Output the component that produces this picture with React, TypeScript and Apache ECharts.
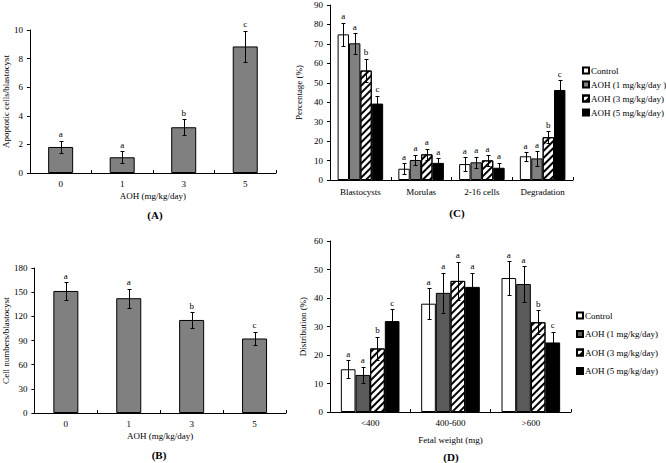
import React, { useEffect, useRef } from "react";
import * as echarts from "echarts";

// ---- Panel A / B ----
const doseCats = ["0", "1", "3", "5"];
const apoptotic = [1.82, 1.1, 3.2, 8.85];
const apoptoticErr = [0.44, 0.43, 0.57, 1.1];
const apoptoticLetters = ["a", "a", "b", "c"];

const cellNumbers = [151.5, 142.5, 115.5, 92.5];
const cellErr = [11, 12, 9.4, 8.6];
const cellLetters = ["a", "a", "b", "c"];

// ---- Panel C ----
const stageCats = ["Blastocysts", "Morulas", "2-16 cells", "Degradation"];
const cNames = ["Control", "AOH (1 mg/kg/day )", "AOH (3 mg/kg/day)", "AOH (5 mg/kg/day)"];
const cControl = [74.9, 5.8, 8.2, 12.2];
const cControlErr = [6.1, 2.9, 3.5, 2.2];
const cAoh1 = [70.3, 10.3, 9.1, 11.1];
const cAoh1Err = [5.3, 2.8, 2.8, 3.8];
const cAoh3 = [56.3, 13.2, 10.1, 22.0];
const cAoh3Err = [6.1, 2.9, 2.7, 3.0];
const cAoh5 = [39.3, 8.8, 6.3, 46.3];
const cAoh5Err = [4.1, 2.4, 2.6, 5.0];
const cLetters = [
  ["a", "a", "a", "a"],
  ["a", "a", "a", "a"],
  ["b", "a", "a", "b"],
  ["c", "a", "a", "c"],
];

// ---- Panel D ----
const weightCats = ["<400", "400-600", ">600"];
const dNames = ["Control", "AOH (1 mg/kg/day)", "AOH (3 mg/kg/day)", "AOH (5 mg/kg/day)"];
const dControl = [15.0, 38.0, 47.0];
const dControlErr = [3.1, 5.4, 5.9];
const dAoh1 = [13.0, 41.8, 44.9];
const dAoh1Err = [2.9, 7.1, 6.3];
const dAoh3 = [22.3, 46.0, 31.5];
const dAoh3Err = [4.1, 6.8, 4.2];
const dAoh5 = [31.9, 43.9, 24.4];
const dAoh5Err = [4.2, 4.9, 3.8];
const dLetters = [
  ["a", "a", "a"],
  ["a", "a", "a"],
  ["b", "a", "b"],
  ["c", "a", "c"],
];

const FONT = "Liberation Serif";

// grid layout (px) and axis maxima
const GRIDS = [
  { left: 29, top: 30, width: 247, height: 143 },
  { left: 34, top: 268, width: 252, height: 145 },
  { left: 330, top: 5, width: 243, height: 175 },
  { left: 330, top: 241, width: 241, height: 171 },
];
const Y_MAX = [10, 180, 90, 60];

const hatch = {
  symbol: "rect",
  symbolSize: 1,
  dashArrayX: [1, 0],
  dashArrayY: [2, 2.5],
  rotation: -Math.PI / 4,
  color: "#000",
};

const fills = [
  { color: "#ffffff" },
  { color: "#808080" },
  { color: "#ffffff", decal: hatch },
  { color: "#000000" },
];

function barData(axisIdx: number, values: number[], errs: number[]) {
  const pxPerUnit = GRIDS[axisIdx].height / Y_MAX[axisIdx];
  return values.map((v, i) => ({
    value: v,
    label: { distance: errs[i] * pxPerUnit + 2 },
  }));
}

function letterLabel(letters: string[]) {
  return {
    show: true,
    position: "top",
    fontSize: 9,
    fontFamily: FONT,
    color: "#000",
    formatter: (p: any) => letters[p.dataIndex],
  };
}

function errSeries(
  axisIdx: number,
  values: number[],
  errs: number[],
  offsetIdx: number,
  nSeries: number,
  gapRatio: number
) {
  return {
    type: "custom",
    xAxisIndex: axisIdx,
    yAxisIndex: axisIdx,
    z: 5,
    itemStyle: { color: "#000000" },
    data: values.map((v, i) => [i, v, errs[i]]),
    encode: { x: 0, y: 1 },
    renderItem: (params: any, api: any) => {
      const i = api.value(0);
      const v = api.value(1);
      const e = api.value(2);
      const band = api.size([1, 0])[0];
      const bw = (band * (1 - gapRatio)) / nSeries;
      const p = api.coord([i, v]);
      const cx = Math.round(p[0] + (offsetIdx - (nSeries - 1) / 2) * bw) + 0.5;
      const yt = Math.round(api.coord([i, v + e])[1]) + 0.5;
      const yb = Math.round(api.coord([i, v - e])[1]) + 0.5;
      const cap = 2;
      const st = { stroke: "#000", lineWidth: 1 };
      return {
        type: "group",
        children: [
          { type: "line", shape: { x1: cx, y1: yt, x2: cx, y2: yb }, style: st },
          { type: "line", shape: { x1: cx - cap, y1: yt, x2: cx + cap, y2: yt }, style: st },
          { type: "line", shape: { x1: cx - cap, y1: yb, x2: cx + cap, y2: yb }, style: st },
        ],
      };
    },
  };
}

function yAx(gridIndex: number, interval: number, name: string, gap: number) {
  return {
    type: "value",
    gridIndex,
    min: 0,
    max: Y_MAX[gridIndex],
    interval,
    name,
    nameLocation: "middle",
    nameGap: gap,
    nameTextStyle: { fontSize: 9, fontFamily: FONT, color: "#000" },
    axisLine: { show: true, lineStyle: { color: "#000", width: 1 } },
    axisTick: { show: true, inside: false, length: 3, lineStyle: { color: "#000" } },
    axisLabel: { fontSize: 9, fontFamily: FONT, color: "#000", margin: 7 },
    splitLine: { show: false },
  };
}

function xAx(gridIndex: number, data: string[], name: string, gap: number, margin: number) {
  return {
    type: "category",
    gridIndex,
    data,
    name,
    nameLocation: "middle",
    nameGap: gap,
    nameTextStyle: { fontSize: 9, fontFamily: FONT, color: "#000" },
    axisLine: { show: true, lineStyle: { color: "#000", width: 1 } },
    axisTick: { show: true, inside: true, length: 3, lineStyle: { color: "#000" } },
    axisLabel: { fontSize: 9, fontFamily: FONT, color: "#000", margin },
    splitLine: { show: false },
  };
}

export default function App() {
  const ref = useRef<HTMLDivElement>(null);
  useEffect(() => {
    if (!ref.current) return;
    const chart = echarts.init(ref.current, undefined, { renderer: "svg" });

    const cVals = [cControl, cAoh1, cAoh3, cAoh5];
    const cErrs = [cControlErr, cAoh1Err, cAoh3Err, cAoh5Err];
    const dVals = [dControl, dAoh1, dAoh3, dAoh5];
    const dErrs = [dControlErr, dAoh1Err, dAoh3Err, dAoh5Err];
    const cGap = 0.25;
    const dGap = 0.27;

    const series: any[] = [
      {
        type: "bar",
        xAxisIndex: 0,
        yAxisIndex: 0,
        data: barData(0, apoptotic, apoptoticErr),
        barWidth: 25,
        label: letterLabel(apoptoticLetters),
        itemStyle: { color: "#808080", borderColor: "#000", borderWidth: 1 },
      },
      {
        type: "bar",
        xAxisIndex: 1,
        yAxisIndex: 1,
        data: barData(1, cellNumbers, cellErr),
        barWidth: 25,
        label: letterLabel(cellLetters),
        itemStyle: { color: "#808080", borderColor: "#000", borderWidth: 1 },
      },
    ];
    cVals.forEach((vals, k) => {
      series.push({
        type: "bar",
        name: cNames[k],
        xAxisIndex: 2,
        yAxisIndex: 2,
        data: barData(2, vals, cErrs[k]),
        barGap: "0%",
        barCategoryGap: cGap * 100 + "%",
        label: letterLabel(cLetters[k]),
        itemStyle: { ...fills[k], borderColor: "#000", borderWidth: 1 },
      });
    });
    dVals.forEach((vals, k) => {
      series.push({
        type: "bar",
        name: dNames[k],
        xAxisIndex: 3,
        yAxisIndex: 3,
        data: barData(3, vals, dErrs[k]),
        barGap: "0%",
        barCategoryGap: dGap * 100 + "%",
        label: letterLabel(dLetters[k]),
        itemStyle: {
          ...fills[k],
          color: k === 1 ? "#5a5a5a" : fills[k].color,
          borderColor: "#000",
          borderWidth: 1,
        },
      });
    });
    series.push(errSeries(0, apoptotic, apoptoticErr, 0, 1, 0));
    series.push(errSeries(1, cellNumbers, cellErr, 0, 1, 0));
    cVals.forEach((vals, k) => series.push(errSeries(2, vals, cErrs[k], k, 4, cGap)));
    dVals.forEach((vals, k) => series.push(errSeries(3, vals, dErrs[k], k, 4, dGap)));

    const titleText = (t: string, x: number, y: number) => ({
      type: "text",
      x,
      y,
      style: {
        text: t,
        fontSize: 11,
        fontWeight: "bold",
        fontFamily: FONT,
        fill: "#000",
        align: "center",
        verticalAlign: "middle",
      },
    });

    chart.setOption({
      animation: false,
      textStyle: { fontFamily: FONT, color: "#000" },
      grid: GRIDS,
      xAxis: [
        xAx(0, doseCats, "AOH (mg/kg/day)", 18, 6),
        xAx(1, doseCats, "AOH (mg/kg/day)", 18, 6),
        xAx(2, stageCats, "", 18, 7),
        xAx(3, weightCats, "Fetal weight (mg)", 23, 6),
      ],
      yAxis: [
        yAx(0, 2, "Apoptotic cells/blastocyst", 18),
        yAx(1, 30, "Cell numbers/blastocyst", 23),
        yAx(2, 10, "Percentage (%)", 27),
        yAx(3, 10, "Distribution (%)", 23),
      ],
      legend: [
        {
          data: cNames,
          orient: "vertical",
          left: 577,
          top: 61,
          itemWidth: 6,
          itemHeight: 6,
          itemGap: 5,
          icon: "rect",
          textStyle: { fontSize: 9, fontFamily: FONT, color: "#000", padding: [0, 0, 0, -3] },
        },
        {
          data: dNames,
          orient: "vertical",
          left: 571,
          top: 306,
          itemWidth: 6,
          itemHeight: 6,
          itemGap: 9.5,
          icon: "rect",
          textStyle: { fontSize: 9, fontFamily: FONT, color: "#000", padding: [0, 0, 0, -3] },
        },
      ],
      graphic: [
        titleText("(A)", 155, 215),
        titleText("(B)", 159, 455),
        titleText("(C)", 457, 213),
        titleText("(D)", 451, 457),
      ],
      series,
    });
    return () => chart.dispose();
  }, []);
  return (
    <div
      ref={ref}
      style={{ position: "fixed", left: 0, top: 0, width: 666, height: 463, background: "#fff" }}
    />
  );
}
